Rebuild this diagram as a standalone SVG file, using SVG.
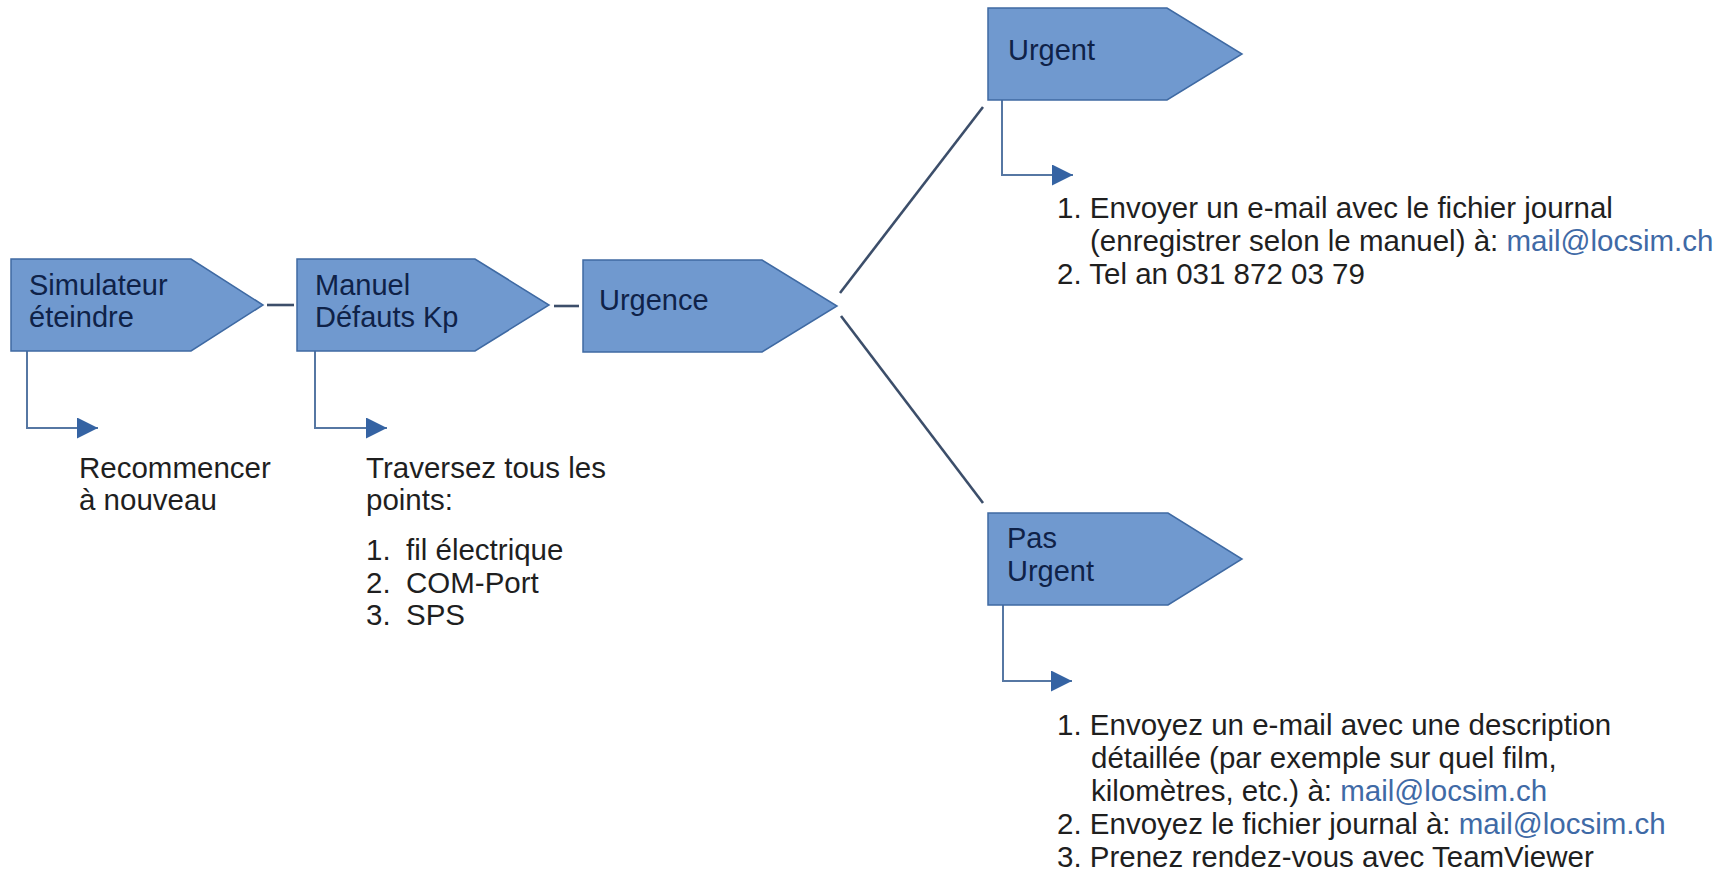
<svg xmlns="http://www.w3.org/2000/svg" width="1731" height="871" viewBox="0 0 1731 871">
<style>
text{font-family:"Liberation Sans",Arial,sans-serif;font-size:29.5px;fill:#1f1f1f}
.node path{fill:#7099cf;stroke:#3f6aa3;stroke-width:1.5}
.node text{fill:#0f2248;font-size:29px}
.link{fill:#3f6aa6}
.conn{stroke:#3c4e6a;stroke-width:2.6;fill:none}
.sub{stroke:#5677a3;stroke-width:2;fill:none;marker-end:url(#ah)}
</style>
<defs>
<marker id="ah" markerUnits="userSpaceOnUse" markerWidth="22" markerHeight="22" refX="21" refY="10.5" orient="auto" viewBox="0 0 22 22">
<path d="M0,0 L21,10.5 L0,21 z" fill="#3563a3"/>
</marker>
</defs>
<rect width="1731" height="871" fill="#ffffff"/>
<g id="connectors">
<path class="conn" d="M267,305 H294"/>
<path class="conn" d="M554,306 H579"/>
<path class="conn" d="M840,293 L983,107"/>
<path class="conn" d="M841,316 L983,503"/>
<path class="sub" d="M27,351 V428 H98"/>
<path class="sub" d="M315,351 V428 H387"/>
<path class="sub" d="M1002,100 V175 H1073"/>
<path class="sub" d="M1003,605 V681 H1072"/>
</g>
<g id="node-simulateur" class="node">
<path d="M11,259 H191 L263,305 L191,351 H11 Z"/>
<text x="29" y="295">Simulateur</text>
<text x="29" y="327">éteindre</text>
</g>
<g id="node-manuel" class="node">
<path d="M297,259 H475 L549,305 L475,351 H297 Z"/>
<text x="315" y="295">Manuel</text>
<text x="315" y="327">Défauts Kp</text>
</g>
<g id="node-urgence" class="node">
<path d="M583,260 H762 L837,306 L762,352 H583 Z"/>
<text x="599" y="310">Urgence</text>
</g>
<g id="node-urgent" class="node">
<path d="M988,8 H1167 L1242,54 L1167,100 H988 Z"/>
<text x="1008" y="60">Urgent</text>
</g>
<g id="node-pas-urgent" class="node">
<path d="M988,513 H1168 L1242,559 L1168,605 H988 Z"/>
<text x="1007" y="548">Pas</text>
<text x="1007" y="581">Urgent</text>
</g>
<g id="text-recommencer">
<text x="79" y="478">Recommencer</text>
<text x="79" y="510">à nouveau</text>
</g>
<g id="text-traversez">
<text x="366" y="478">Traversez tous les</text>
<text x="366" y="510">points:</text>
<text x="366" y="560">1.</text><text x="406" y="560">fil électrique</text>
<text x="366" y="593">2.</text><text x="406" y="593">COM-Port</text>
<text x="366" y="625">3.</text><text x="406" y="625">SPS</text>
</g>
<g id="text-urgent">
<text x="1057" y="218">1. Envoyer un e-mail avec le fichier journal</text>
<text x="1090" y="251">(enregistrer selon le manuel) à: <tspan class="link">mail@locsim.ch</tspan></text>
<text x="1057" y="284">2. Tel an 031 872 03 79</text>
</g>
<g id="text-pas-urgent">
<text x="1057" y="735">1. Envoyez un e-mail avec une description</text>
<text x="1091" y="768">détaillée (par exemple sur quel film,</text>
<text x="1091" y="801">kilomètres, etc.) à: <tspan class="link">mail@locsim.ch</tspan></text>
<text x="1057" y="834">2. Envoyez le fichier journal à: <tspan class="link">mail@locsim.ch</tspan></text>
<text x="1057" y="867">3. Prenez rendez-vous avec TeamViewer</text>
</g>
</svg>
